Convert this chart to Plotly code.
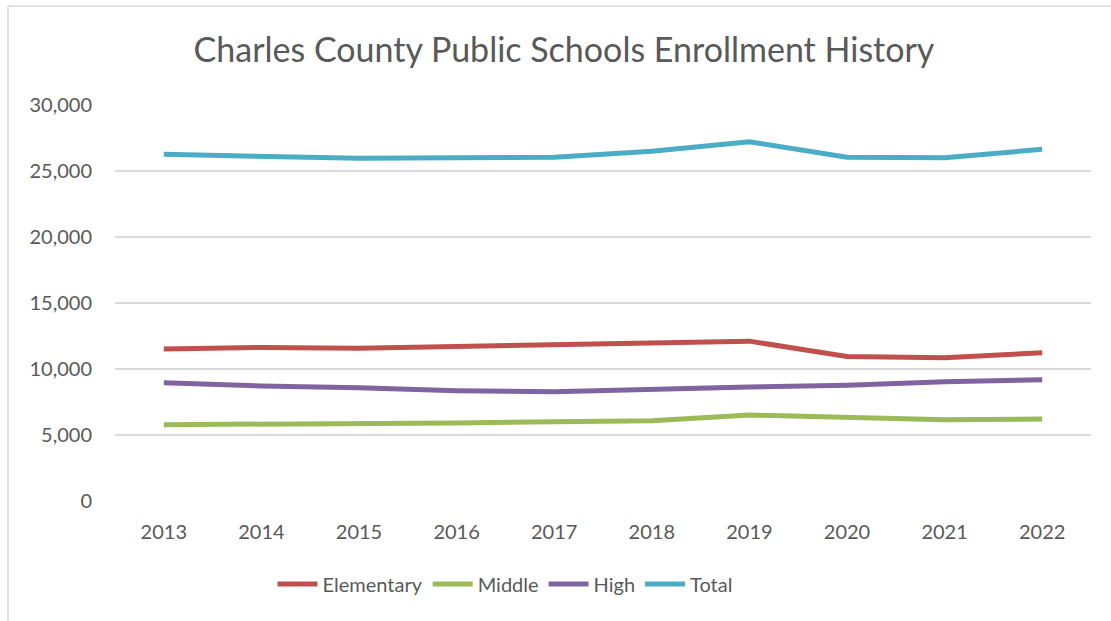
import plotly.graph_objects as go

years = ["2013", "2014", "2015", "2016", "2017", "2018", "2019", "2020", "2021", "2022"]
elementary = [11515, 11630, 11565, 11720, 11880, 11990, 12110, 10940, 10860, 11230]
middle = [5785, 5810, 5790, 5910, 6000, 6085, 6510, 6365, 6160, 6210]
high = [8965, 8710, 8585, 8360, 8280, 8480, 8630, 8760, 9040, 9190]
total = [26265, 26150, 25960, 26000, 26040, 26500, 27220, 26040, 26010, 26640]

series = [
    ("Elementary", elementary, "#C0504D"),
    ("Middle", middle, "#9BBB59"),
    ("High", high, "#8064A2"),
    ("Total", total, "#4BACC6"),
]

FONT = "Lato"
GRAY = "#595959"

fig = go.Figure()
for name, vals, col in series:
    fig.add_trace(go.Scatter(x=years, y=vals, name=name, mode="lines",
                             line=dict(color=col, width=5)))

W, H = 1111, 621
L, R, T, B = 115, 20, 105, 120
pw, ph = W - L - R, H - T - B

def px_x(px):
    return (px - L) / pw

def px_y(py):
    return (H - B - py) / ph

fig.update_layout(
    width=W, height=H,
    margin=dict(l=L, r=R, t=T, b=B),
    paper_bgcolor="white", plot_bgcolor="white",
    font=dict(family=FONT, color=GRAY, size=20),
    title=dict(text="Charles County Public Schools Enrollment History",
               x=564 / W, xanchor="center", xref="container",
               y=1 - 50 / H, yanchor="middle", yref="container",
               font=dict(family=FONT, size=34, color=GRAY)),
    xaxis=dict(type="category", range=[-0.5, 9.5], showgrid=False,
               showline=False, ticks="", tickfont=dict(size=20, color=GRAY),
               ticklabelstandoff=17),
    yaxis=dict(range=[0, 30000], tickvals=[0, 5000, 10000, 15000, 20000, 25000, 30000],
               tickformat=",d", showgrid=True, gridcolor="#D9D9D9", gridwidth=1.5,
               zeroline=False, showline=False, ticks="",
               tickfont=dict(size=20, color=GRAY), ticklabelstandoff=22),
    legend=dict(orientation="h", x=505 / W, xanchor="center", xref="container",
                y=1 - 584 / H, yanchor="middle", yref="container",
                font=dict(size=20, color=GRAY), itemwidth=40, tracegroupgap=0,
                traceorder="normal"),
    showlegend=True,
    shapes=[
        dict(type="line", xref="paper", yref="paper", x0=px_x(8), x1=px_x(1111),
             y0=px_y(6), y1=px_y(6), line=dict(color="#D9D9D9", width=1.5)),
        dict(type="line", xref="paper", yref="paper", x0=px_x(8), x1=px_x(8),
             y0=px_y(6), y1=px_y(621), line=dict(color="#D9D9D9", width=1.5)),
    ],
)

fig.write_html("out.html")
